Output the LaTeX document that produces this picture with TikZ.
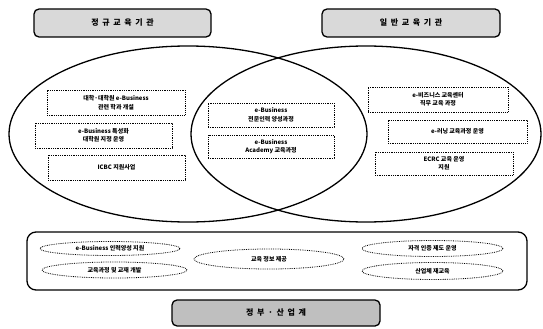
\documentclass[tikz,border=0pt]{standalone}
\usepackage{fontspec}
\setmainfont{Noto Sans CJK KR}
\usetikzlibrary{shapes.geometric}
\tikzset{
  hdr/.style={draw, line width=1.3pt, rounded corners=5pt, fill=gray!30, inner sep=0pt,
    font=\fontsize{8}{9}\selectfont\bfseries},
  venn/.style={draw, ellipse, line width=1.3pt, inner sep=0pt},
  dbox/.style={draw, densely dotted, line width=0.8pt, inner sep=0pt, align=center,
    font=\fontsize{6}{8.5}\selectfont\bfseries},
  dell/.style={draw, ellipse, densely dotted, line width=0.8pt, inner sep=0pt,
    font=\fontsize{6}{7}\selectfont\bfseries},
  panel/.style={draw, line width=1.3pt, rounded corners=9pt, inner sep=0pt}
}
\begin{document}
\begin{tikzpicture}[x=1pt,y=-1pt]
\useasboundingbox (0,0) rectangle (543,329);
% headers
\node[hdr, minimum width=177pt, minimum height=28pt] (h1) at (122.5,23) {정 \ 규 \ 교 \ 육 \ 기 \ 관};
\node[hdr, minimum width=178pt, minimum height=28pt] (h2) at (411,23) {일 \ 반 \ 교 \ 육 \ 기 \ 관};
% venn ellipses
\node[venn, minimum width=358pt, minimum height=176pt] (le) at (188,134) {};
\node[venn, minimum width=350pt, minimum height=176pt] (re) at (366,134) {};
% left boxes
\node[dbox, minimum width=138pt, minimum height=25pt] (l1) at (116,102.5) {대학·대학원 e-Business\\관련 학과 개설};
\node[dbox, minimum width=137pt, minimum height=25pt] (l2) at (103.5,135.5) {e-Business 특성화\\대학원 지정 운영};
\node[dbox, minimum width=137pt, minimum height=25pt] (l3) at (116.5,167.5) {ICBC 지원사업};
% center boxes
\node[dbox, minimum width=126pt, minimum height=24pt] (c1) at (271,115) {e-Business\\전문인력 양성과정};
\node[dbox, minimum width=126pt, minimum height=23pt] (c2) at (271,146.5) {e-Business\\Academy 교육과정};
% right boxes
\node[dbox, minimum width=140pt, minimum height=25pt] (r1) at (438,99.5) {e-비즈니스 교육센터\\직무 교육 과정};
\node[dbox, minimum width=139pt, minimum height=23pt] (r2) at (457.5,131.5) {e-러닝 교육과정 운영};
\node[dbox, minimum width=138pt, minimum height=23pt] (r3) at (444,163.5) {ECRC 교육 운영\\지원};
% bottom panel
\node[panel, minimum width=500pt, minimum height=58pt] (pn) at (277,261) {};
\node[dell, minimum width=140pt, minimum height=14pt] (e1) at (110,248.5) {e-Business 인력양성 지원};
\node[dell, minimum width=145pt, minimum height=16pt] (e2) at (114.5,270) {교육과정 및 교재 개발};
\node[dell, minimum width=150pt, minimum height=20pt] (e3) at (269,259) {교육 정보 제공};
\node[dell, minimum width=141pt, minimum height=16pt] (e4) at (432.5,248.5) {자격 인증 제도 운영};
\node[dell, minimum width=141pt, minimum height=17pt] (e5) at (432.5,271) {산업체 재교육};
% bottom label
\node[hdr, fill=gray!50, minimum width=208pt, minimum height=26pt] (h3) at (276,313) {정 \ 부 \ · \ 산 \ 업 \ 계};
\end{tikzpicture}
\end{document}
